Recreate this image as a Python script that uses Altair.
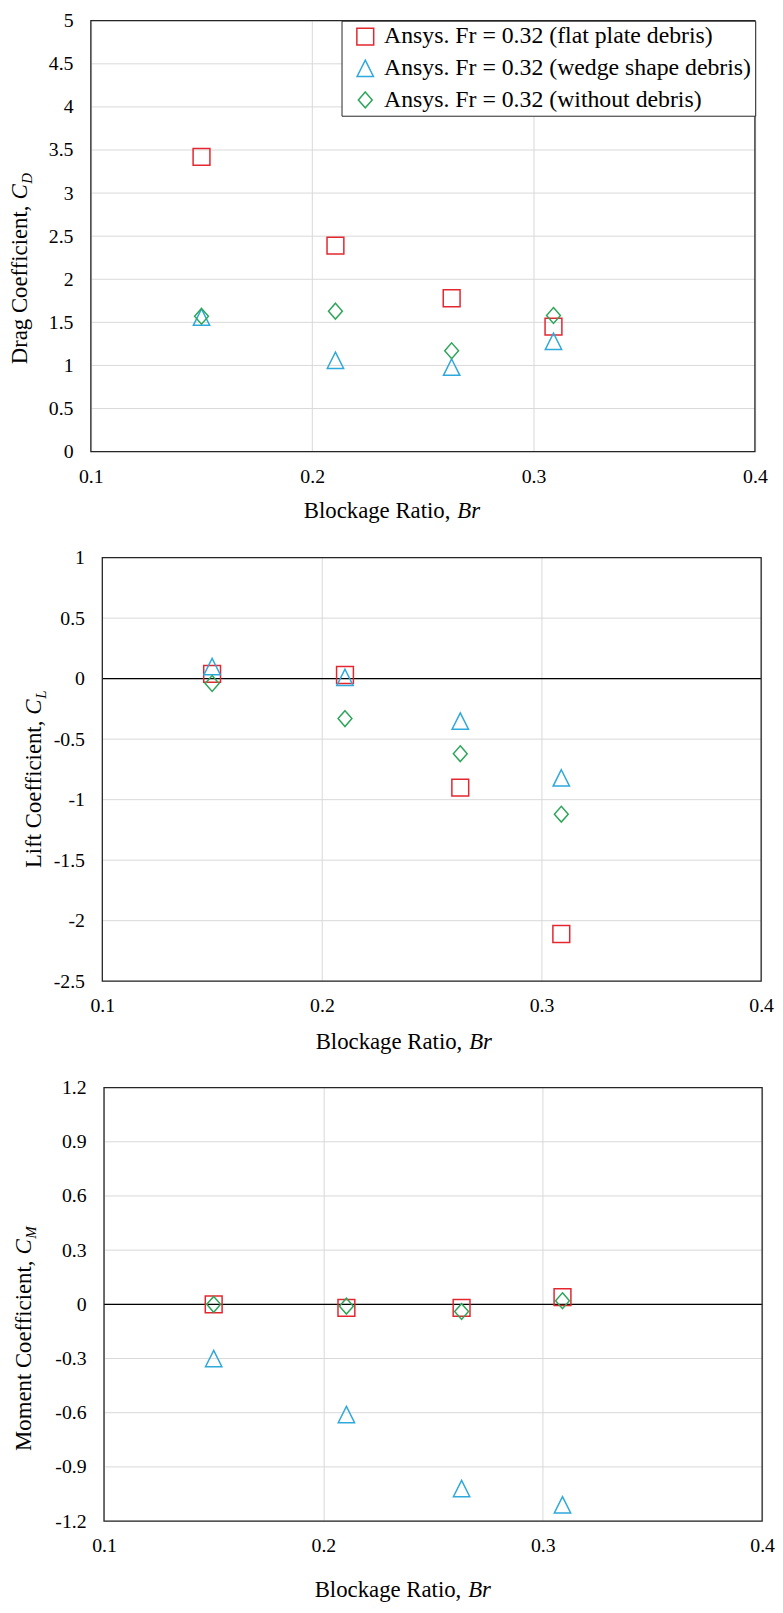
import altair as alt
import pandas as pd

# ---------------- data ----------------
SERIES = ["Ansys. Fr = 0.32 (flat plate debris)",
          "Ansys. Fr = 0.32 (wedge shape debris)",
          "Ansys. Fr = 0.32 (without debris)"]
COLORS = ["#E3262F", "#2FA8DC", "#2EA65A"]
SHAPES = ["square", "M0,-1L1,1L-1,1Z", "M0,-1L0.875,0L0,1L-0.875,0Z"]
SIZES = [289, 256, 256]

BR = [0.15, 0.2105, 0.263, 0.309]

CD_FLAT = [3.42, 2.39, 1.78, 1.45]
CD_WEDGE = [1.56, 1.06, 0.98, 1.28]
CD_WITHOUT = [1.57, 1.63, 1.17, 1.58]

CL_FLAT = [0.04, 0.03, -0.90, -2.11]
CL_WEDGE = [0.10, 0.01, -0.35, -0.82]
CL_WITHOUT = [-0.04, -0.33, -0.62, -1.12]

CM_FLAT = [0.00, -0.02, -0.02, 0.04]
CM_WEDGE = [-0.30, -0.61, -1.02, -1.11]
CM_WITHOUT = [0.00, -0.01, -0.04, 0.02]

X_TICKS = [0.1, 0.2, 0.3, 0.4]
CD_TICKS = [0, 0.5, 1, 1.5, 2, 2.5, 3, 3.5, 4, 4.5, 5]
CL_TICKS = [-2.5, -2, -1.5, -1, -0.5, 0, 0.5, 1]
CM_TICKS = [-1.2, -0.9, -0.6, -0.3, 0, 0.3, 0.6, 0.9, 1.2]

X_TITLE = "Blockage Ratio,"
X_TITLE_IT = "Br"
Y_TITLES = [("Drag Coefficient,", "C", "D"),
            ("Lift Coefficient,", "C", "L"),
            ("Moment Coefficient,", "C", "M")]

FONT = "Liberation Serif"
GRID = "#D9D9D9"
FRAME = "#262626"
TICK_FS = 20
LABEL_EXPR = ("datum.value < 0 ? '-' + format(-datum.value, '~g') "
              ": format(datum.value, '~g')")

ONE = pd.DataFrame({"k": [0]})


def text_mark(txt, x, y, size=23, italic=False, angle=0, align="left",
              baseline="middle"):
    kw = dict(text=txt, font=FONT, fontSize=size, color="black",
              align=align, baseline=baseline)
    if italic:
        kw["fontStyle"] = "italic"
    if angle:
        kw["angle"] = angle
    return alt.Chart(ONE).mark_text(**kw).encode(x=alt.value(x), y=alt.value(y))


def panel(vals, ticks, show_legend, x0, pw, h, ytitle, ybx, yjy,
          xt_x, xt_dy, zero_line):
    df = pd.DataFrame({
        "Br": BR * 3,
        "val": vals[0] + vals[1] + vals[2],
        "series": [s for s in SERIES for _ in BR],
    })
    xs = alt.Scale(domain=[0.1, 0.4], range=[x0, x0 + pw], nice=False, zero=False)
    ys = alt.Scale(domain=[ticks[0], ticks[-1]], nice=False, zero=False)

    yaxis = alt.Axis(values=ticks, labelExpr=LABEL_EXPR, grid=False,
                     domain=False, ticks=False, labelPadding=18,
                     labelFont=FONT, labelFontSize=TICK_FS,
                     labelColor="black", title=None,
                     offset=-x0, labelOverlap=False)
    xaxis = alt.Axis(values=X_TICKS, format=".1f", grid=True,
                     gridColor=GRID, gridWidth=1, domain=False,
                     ticks=False, labelPadding=15, labelFont=FONT,
                     labelFontSize=TICK_FS, labelColor="black", title=None,
                     labelFlush=False, labelOverlap=False)

    if show_legend:
        leg = alt.Legend(orient="top-right", offset=0, title=None,
                         labelFont=FONT, labelFontSize=24, labelColor="black",
                         strokeColor=FRAME, fillColor="white", padding=4,
                         rowPadding=8, symbolSize=150, symbolStrokeWidth=1.5,
                         symbolOffset=8, labelOffset=7, labelLimit=0)
    else:
        leg = None

    grid_df = pd.DataFrame({"v": ticks})
    ygrid = alt.Chart(grid_df).mark_rule(color=GRID, strokeWidth=1).encode(
        y=alt.Y("v:Q", scale=ys, axis=yaxis),
        x=alt.value(x0), x2=alt.value(x0 + pw))

    pts = alt.Chart(df).mark_point(filled=False, strokeWidth=1.5, opacity=1).encode(
        x=alt.X("Br:Q", scale=xs, axis=xaxis),
        y=alt.Y("val:Q", scale=ys, axis=yaxis),
        color=alt.Color("series:N", scale=alt.Scale(domain=SERIES, range=COLORS),
                        legend=leg),
        shape=alt.Shape("series:N", scale=alt.Scale(domain=SERIES, range=SHAPES),
                        legend=leg),
        size=alt.Size("series:N", scale=alt.Scale(domain=SERIES, range=SIZES),
                      legend=None),
    )

    frame = alt.Chart(ONE).mark_rect(fillOpacity=0, stroke=FRAME,
                                     strokeWidth=1.3).encode(
        x=alt.value(x0), x2=alt.value(x0 + pw), y=alt.value(0), y2=alt.value(h))

    layers = [ygrid]
    if zero_line:
        zdf = pd.DataFrame({"z": [0]})
        layers.append(alt.Chart(zdf).mark_rule(color="black", strokeWidth=1.2).encode(
            y=alt.Y("z:Q", scale=ys, axis=yaxis),
            x=alt.value(x0), x2=alt.value(x0 + pw)))
    layers += [pts, frame]

    # x title
    layers.append(text_mark(X_TITLE, xt_x, h + xt_dy, align="right"))
    layers.append(text_mark(X_TITLE_IT, xt_x + 7, h + xt_dy, italic=True))
    # y title (rotated)
    layers.append(text_mark(ytitle[0], ybx, yjy, angle=270, align="right",
                            baseline="alphabetic"))
    layers.append(text_mark(ytitle[1], ybx, yjy - 6, italic=True, angle=270,
                            align="left", baseline="alphabetic"))
    layers.append(text_mark(ytitle[2], ybx + 5, yjy - 22, size=15, italic=True,
                            angle=270, align="left", baseline="alphabetic"))

    return alt.layer(*layers).properties(width=x0 + pw, height=h)


p1 = panel([CD_FLAT, CD_WEDGE, CD_WITHOUT], CD_TICKS, True,
           x0=-13.3, pw=671, h=435.4, ytitle=Y_TITLES[0], ybx=-78, yjy=186.7,
           xt_x=350, xt_dy=60.3, zero_line=False)
p2 = panel([CL_FLAT, CL_WEDGE, CL_WITHOUT], CL_TICKS, False,
           x0=-1.7, pw=665.7, h=428, ytitle=Y_TITLES[1], ybx=-64, yjy=164.7,
           xt_x=362, xt_dy=61, zero_line=True)
p3 = panel([CM_FLAT, CM_WEDGE, CM_WITHOUT], CM_TICKS, False,
           x0=0, pw=665, h=438, ytitle=Y_TITLES[2], ybx=-74, yjy=174.7,
           xt_x=361, xt_dy=69.4, zero_line=True)

chart = alt.vconcat(p1, p2, p3, spacing=24.5).resolve_scale(
    x="independent", y="independent", color="independent",
    shape="independent", size="independent"
).properties(
    padding={"left": 1, "top": -5.5, "right": 0, "bottom": 0},
    background="white",
).configure_view(stroke=None)

chart.save("out.html", embed_options={"renderer": "svg", "actions": False})
